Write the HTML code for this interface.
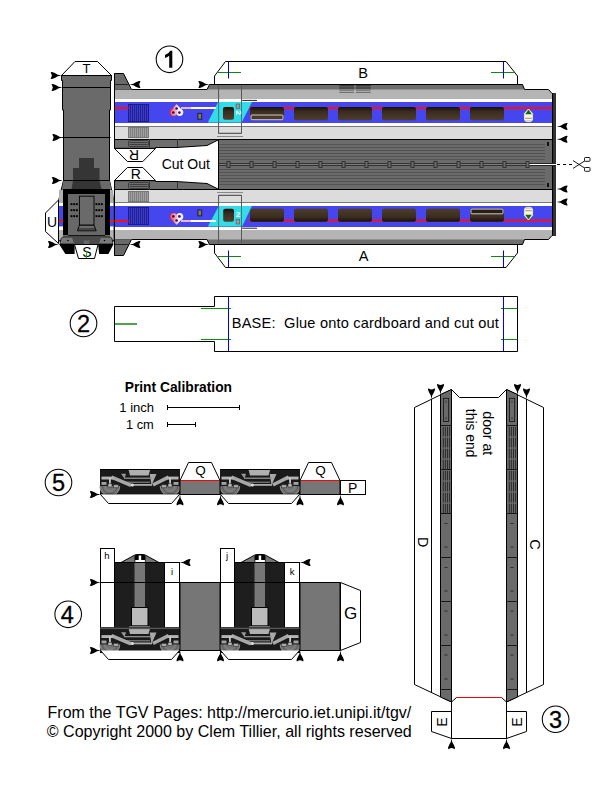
<!DOCTYPE html>
<html><head><meta charset="utf-8"><style>
html,body{margin:0;padding:0;background:#fff;width:612px;height:792px;overflow:hidden}
svg{display:block}
text{font-family:"Liberation Sans",sans-serif}
</style></head><body>
<svg width="612" height="792" viewBox="0 0 612 792">
<defs>
<linearGradient id="win" x1="0" y1="0" x2="0" y2="1">
<stop offset="0" stop-color="#181008"/><stop offset="0.35" stop-color="#3a2c20"/><stop offset="1" stop-color="#4e3e2e"/></linearGradient>
<linearGradient id="winr" x1="0" y1="1" x2="0" y2="0">
<stop offset="0" stop-color="#181008"/><stop offset="0.35" stop-color="#3a2c20"/><stop offset="1" stop-color="#4e3e2e"/></linearGradient>
<linearGradient id="lg" gradientUnits="userSpaceOnUse" x1="170" y1="0" x2="183" y2="0">
<stop offset="0" stop-color="#ff1a1a"/><stop offset="0.45" stop-color="#ff9a8a"/><stop offset="0.7" stop-color="#ffffff"/><stop offset="1" stop-color="#f0e0e0"/></linearGradient>
</defs>

<circle cx="169.5" cy="59.3" r="13.3" fill="none" stroke="#000" stroke-width="1.05"/>
<path d="M169.2,67.8 L172.3,67.8 L172.3,50.8 L170.2,50.8 Q168.8,53.8 165,55 L165,58 Q167.6,57.2 169.2,55.8 Z" fill="#000"/>
<circle cx="83.5" cy="323.4" r="13.3" fill="none" stroke="#000" stroke-width="1.05"/>
<text x="83.5" y="331.8" font-size="23.5" text-anchor="middle" fill="#000" stroke="#000" stroke-width="0.3">2</text>
<circle cx="58.5" cy="482.5" r="13.3" fill="none" stroke="#000" stroke-width="1.05"/>
<text x="58.5" y="490.9" font-size="23.5" text-anchor="middle" fill="#000" stroke="#000" stroke-width="0.3">5</text>
<circle cx="68.2" cy="614.3" r="13.3" fill="none" stroke="#000" stroke-width="1.05"/>
<text x="67.2" y="622.7" font-size="23.5" text-anchor="middle" fill="#000" stroke="#000" stroke-width="0.3">4</text>
<circle cx="555.6" cy="719.2" r="13.3" fill="none" stroke="#000" stroke-width="1.05"/>
<text x="555.6" y="727.6" font-size="23.5" text-anchor="middle" fill="#000" stroke="#000" stroke-width="0.3">3</text>
<g>
<polygon points="114.5,73.5 123.5,73.5 131.5,89.5 114.5,89.5" fill="#6a6a6a" stroke="#000" stroke-width="1"/>
<line x1="114.5" y1="84.5" x2="129" y2="84.5" stroke="#222" stroke-width="1"/>
<polygon points="114.5,89.5 207,89.5 209.5,84.5 522.5,84.5 524.5,89.5 548.5,89.5 552,93.5 552,139 114.5,139" fill="#b4b4b4"/>
<polygon points="209.5,84.5 522.5,84.5 524.5,89.5 207,89.5" fill="#6e6e6e"/>
<polyline points="131.5,89.5 207,89.5 209.5,84.5 522.5,84.5 524.5,89.5 548.5,89.5 552,93.5" fill="none" stroke="#000" stroke-width="1"/>
<rect x="114.5" y="99" width="437.5" height="3" fill="#fff"/>
<rect x="114.5" y="102" width="437.5" height="21" fill="#4646ee"/>
<rect x="114.5" y="123" width="437.5" height="3" fill="#fff"/>
<rect x="114.5" y="126" width="437.5" height="1" fill="#777"/>
<rect x="114.5" y="127" width="437.5" height="12" fill="#dcdcdc"/>
<polygon points="114.5,139.5 218.5,139.5 218.5,140 207,145.5 176,147.5 114.5,147.5" fill="#6e6e6e"/>
<polyline points="114.5,148 155.5,148 155.5,147.5 176,147.5 207,145.5 218,140" fill="none" stroke="#000" stroke-width="1"/>
<rect x="114.5" y="139" width="437.5" height="1" fill="#000"/>
<line x1="149.5" y1="139" x2="149.5" y2="147.5" stroke="#333" stroke-width="1"/>
<line x1="177.5" y1="139" x2="177.5" y2="147" stroke="#333" stroke-width="1"/>
<line x1="114.5" y1="73.5" x2="114.5" y2="148.5" stroke="#000" stroke-width="1"/>
<rect x="128.5" y="104.5" width="20" height="17" fill="#3a3ac8" stroke="#1c1c88" stroke-width="1"/>
<line x1="130.5" y1="105" x2="130.5" y2="121" stroke="#1c1c88" stroke-width="0.8"/>
<line x1="132.5" y1="105" x2="132.5" y2="121" stroke="#1c1c88" stroke-width="0.8"/>
<line x1="134.5" y1="105" x2="134.5" y2="121" stroke="#1c1c88" stroke-width="0.8"/>
<line x1="136.5" y1="105" x2="136.5" y2="121" stroke="#1c1c88" stroke-width="0.8"/>
<line x1="138.5" y1="105" x2="138.5" y2="121" stroke="#1c1c88" stroke-width="0.8"/>
<line x1="140.5" y1="105" x2="140.5" y2="121" stroke="#1c1c88" stroke-width="0.8"/>
<line x1="142.5" y1="105" x2="142.5" y2="121" stroke="#1c1c88" stroke-width="0.8"/>
<line x1="144.5" y1="105" x2="144.5" y2="121" stroke="#1c1c88" stroke-width="0.8"/>
<line x1="146.5" y1="105" x2="146.5" y2="121" stroke="#1c1c88" stroke-width="0.8"/>
<rect x="128.5" y="127.5" width="20" height="10" fill="#a0a0a0" stroke="#777" stroke-width="1"/>
<line x1="130.5" y1="128" x2="130.5" y2="137" stroke="#777" stroke-width="0.8"/>
<line x1="132.5" y1="128" x2="132.5" y2="137" stroke="#777" stroke-width="0.8"/>
<line x1="134.5" y1="128" x2="134.5" y2="137" stroke="#777" stroke-width="0.8"/>
<line x1="136.5" y1="128" x2="136.5" y2="137" stroke="#777" stroke-width="0.8"/>
<line x1="138.5" y1="128" x2="138.5" y2="137" stroke="#777" stroke-width="0.8"/>
<line x1="140.5" y1="128" x2="140.5" y2="137" stroke="#777" stroke-width="0.8"/>
<line x1="142.5" y1="128" x2="142.5" y2="137" stroke="#777" stroke-width="0.8"/>
<line x1="144.5" y1="128" x2="144.5" y2="137" stroke="#777" stroke-width="0.8"/>
<line x1="146.5" y1="128" x2="146.5" y2="137" stroke="#777" stroke-width="0.8"/>
<rect x="128.5" y="140.5" width="20" height="6" rx="1" fill="#6e6e6e" stroke="#333" stroke-width="0.8"/>
<line x1="129.5" y1="142.5" x2="147.5" y2="142.5" stroke="#333" stroke-width="0.8"/>
<line x1="129.5" y1="144.5" x2="147.5" y2="144.5" stroke="#333" stroke-width="0.8"/>
<rect x="115" y="107" width="13.5" height="2" fill="#ff1010"/>
<polyline points="218.5,85 218.5,133.5 241.5,133.5 241.5,85" fill="none" stroke="#666" stroke-width="1"/>
<line x1="217" y1="136.5" x2="243" y2="136.5" stroke="#888" stroke-width="1"/>
</g>
<g transform="translate(0,329.0) scale(1,-1)">
<polygon points="114.5,73.5 123.5,73.5 131.5,89.5 114.5,89.5" fill="#6a6a6a" stroke="#000" stroke-width="1"/>
<line x1="114.5" y1="84.5" x2="129" y2="84.5" stroke="#222" stroke-width="1"/>
<polygon points="114.5,89.5 207,89.5 209.5,84.5 522.5,84.5 524.5,89.5 548.5,89.5 552,93.5 552,139 114.5,139" fill="#b4b4b4"/>
<polygon points="209.5,84.5 522.5,84.5 524.5,89.5 207,89.5" fill="#6e6e6e"/>
<polyline points="131.5,89.5 207,89.5 209.5,84.5 522.5,84.5 524.5,89.5 548.5,89.5 552,93.5" fill="none" stroke="#000" stroke-width="1"/>
<rect x="114.5" y="99" width="437.5" height="3" fill="#fff"/>
<rect x="114.5" y="102" width="437.5" height="21" fill="#4646ee"/>
<rect x="114.5" y="123" width="437.5" height="3" fill="#fff"/>
<rect x="114.5" y="126" width="437.5" height="1" fill="#777"/>
<rect x="114.5" y="127" width="437.5" height="12" fill="#dcdcdc"/>
<polygon points="114.5,139.5 218.5,139.5 218.5,140 207,145.5 176,147.5 114.5,147.5" fill="#6e6e6e"/>
<polyline points="114.5,148 155.5,148 155.5,147.5 176,147.5 207,145.5 218,140" fill="none" stroke="#000" stroke-width="1"/>
<rect x="114.5" y="139" width="437.5" height="1" fill="#000"/>
<line x1="149.5" y1="139" x2="149.5" y2="147.5" stroke="#333" stroke-width="1"/>
<line x1="177.5" y1="139" x2="177.5" y2="147" stroke="#333" stroke-width="1"/>
<line x1="114.5" y1="73.5" x2="114.5" y2="148.5" stroke="#000" stroke-width="1"/>
<rect x="128.5" y="104.5" width="20" height="17" fill="#3a3ac8" stroke="#1c1c88" stroke-width="1"/>
<line x1="130.5" y1="105" x2="130.5" y2="121" stroke="#1c1c88" stroke-width="0.8"/>
<line x1="132.5" y1="105" x2="132.5" y2="121" stroke="#1c1c88" stroke-width="0.8"/>
<line x1="134.5" y1="105" x2="134.5" y2="121" stroke="#1c1c88" stroke-width="0.8"/>
<line x1="136.5" y1="105" x2="136.5" y2="121" stroke="#1c1c88" stroke-width="0.8"/>
<line x1="138.5" y1="105" x2="138.5" y2="121" stroke="#1c1c88" stroke-width="0.8"/>
<line x1="140.5" y1="105" x2="140.5" y2="121" stroke="#1c1c88" stroke-width="0.8"/>
<line x1="142.5" y1="105" x2="142.5" y2="121" stroke="#1c1c88" stroke-width="0.8"/>
<line x1="144.5" y1="105" x2="144.5" y2="121" stroke="#1c1c88" stroke-width="0.8"/>
<line x1="146.5" y1="105" x2="146.5" y2="121" stroke="#1c1c88" stroke-width="0.8"/>
<rect x="128.5" y="127.5" width="20" height="10" fill="#a0a0a0" stroke="#777" stroke-width="1"/>
<line x1="130.5" y1="128" x2="130.5" y2="137" stroke="#777" stroke-width="0.8"/>
<line x1="132.5" y1="128" x2="132.5" y2="137" stroke="#777" stroke-width="0.8"/>
<line x1="134.5" y1="128" x2="134.5" y2="137" stroke="#777" stroke-width="0.8"/>
<line x1="136.5" y1="128" x2="136.5" y2="137" stroke="#777" stroke-width="0.8"/>
<line x1="138.5" y1="128" x2="138.5" y2="137" stroke="#777" stroke-width="0.8"/>
<line x1="140.5" y1="128" x2="140.5" y2="137" stroke="#777" stroke-width="0.8"/>
<line x1="142.5" y1="128" x2="142.5" y2="137" stroke="#777" stroke-width="0.8"/>
<line x1="144.5" y1="128" x2="144.5" y2="137" stroke="#777" stroke-width="0.8"/>
<line x1="146.5" y1="128" x2="146.5" y2="137" stroke="#777" stroke-width="0.8"/>
<rect x="128.5" y="140.5" width="20" height="6" rx="1" fill="#6e6e6e" stroke="#333" stroke-width="0.8"/>
<line x1="129.5" y1="142.5" x2="147.5" y2="142.5" stroke="#333" stroke-width="0.8"/>
<line x1="129.5" y1="144.5" x2="147.5" y2="144.5" stroke="#333" stroke-width="0.8"/>
<rect x="115" y="107" width="13.5" height="2" fill="#ff1010"/>
<polyline points="218.5,85 218.5,133.5 241.5,133.5 241.5,85" fill="none" stroke="#666" stroke-width="1"/>
<line x1="217" y1="136.5" x2="243" y2="136.5" stroke="#888" stroke-width="1"/>
</g>
<rect x="552" y="93" width="4" height="143" fill="#333"/><rect x="552" y="93" width="1" height="143" fill="#000"/>
<rect x="218" y="139" width="334" height="51" fill="#6b6b6b"/>
<rect x="219" y="144" width="326" height="1" fill="#535353"/>
<rect x="219" y="147" width="326" height="1" fill="#535353"/>
<rect x="219" y="150" width="326" height="1" fill="#535353"/>
<rect x="219" y="153" width="326" height="1" fill="#535353"/>
<rect x="219" y="156" width="326" height="1" fill="#535353"/>
<rect x="219" y="159" width="326" height="1" fill="#535353"/>
<rect x="219" y="169" width="326" height="1" fill="#535353"/>
<rect x="219" y="172" width="326" height="1" fill="#535353"/>
<rect x="219" y="175" width="326" height="1" fill="#535353"/>
<rect x="219" y="178" width="326" height="1" fill="#535353"/>
<rect x="219" y="181" width="326" height="1" fill="#535353"/>
<rect x="219" y="184" width="326" height="1" fill="#535353"/>
<rect x="218" y="139" width="334" height="1" fill="#000"/>
<rect x="218" y="189" width="334" height="1" fill="#000"/>
<rect x="218" y="139" width="1" height="51" fill="#000"/>
<rect x="219" y="163" width="310" height="1" fill="#333"/><rect x="219" y="165" width="310" height="1" fill="#333"/><rect x="219" y="164" width="310" height="1" fill="#7a7a7a"/>
<rect x="528" y="163" width="28" height="1" fill="#222"/><rect x="528" y="165" width="28" height="1" fill="#222"/><rect x="528" y="164" width="28" height="1" fill="#fff"/>
<rect x="227.0" y="161.5" width="3" height="6" fill="#6b6b6b" stroke="#333" stroke-width="1"/>
<rect x="250.0" y="161.5" width="3" height="6" fill="#6b6b6b" stroke="#333" stroke-width="1"/>
<rect x="273.0" y="161.5" width="3" height="6" fill="#6b6b6b" stroke="#333" stroke-width="1"/>
<rect x="296.0" y="161.5" width="3" height="6" fill="#6b6b6b" stroke="#333" stroke-width="1"/>
<rect x="319.0" y="161.5" width="3" height="6" fill="#6b6b6b" stroke="#333" stroke-width="1"/>
<rect x="342.0" y="161.5" width="3" height="6" fill="#6b6b6b" stroke="#333" stroke-width="1"/>
<rect x="365.0" y="161.5" width="3" height="6" fill="#6b6b6b" stroke="#333" stroke-width="1"/>
<rect x="388.0" y="161.5" width="3" height="6" fill="#6b6b6b" stroke="#333" stroke-width="1"/>
<rect x="411.0" y="161.5" width="3" height="6" fill="#6b6b6b" stroke="#333" stroke-width="1"/>
<rect x="434.0" y="161.5" width="3" height="6" fill="#6b6b6b" stroke="#333" stroke-width="1"/>
<rect x="457.0" y="161.5" width="3" height="6" fill="#6b6b6b" stroke="#333" stroke-width="1"/>
<rect x="480.0" y="161.5" width="3" height="6" fill="#6b6b6b" stroke="#333" stroke-width="1"/>
<rect x="503.0" y="161.5" width="3" height="6" fill="#6b6b6b" stroke="#333" stroke-width="1"/>
<rect x="526.0" y="161.5" width="3" height="6" fill="#6b6b6b" stroke="#333" stroke-width="1"/>
<rect x="547" y="142" width="2" height="4" fill="#111"/>
<rect x="547" y="183" width="2" height="4" fill="#111"/>
<line x1="557" y1="164.5" x2="572" y2="164.5" stroke="#000" stroke-width="1" stroke-dasharray="3,3"/>
<line x1="573" y1="160.6" x2="585.5" y2="168.6" stroke="#000" stroke-width="0.9"/>
<line x1="573" y1="168.4" x2="585.5" y2="160.4" stroke="#000" stroke-width="0.9"/>
<rect x="584.5" y="157.5" width="5.5" height="3.8" rx="0.8" fill="#fff" stroke="#000" stroke-width="0.9"/>
<rect x="584.5" y="167.5" width="5.5" height="3.8" rx="0.8" fill="#fff" stroke="#000" stroke-width="0.9"/>
<polygon points="114.5,148.5 155.5,148.5 142.8,161.5 127.4,161.5" fill="#fff" stroke="#000" stroke-width="1"/>
<text x="134" y="160" font-size="14" text-anchor="middle" transform="rotate(180 134 155)" fill="#000">R</text>
<polygon points="127.4,167.5 142.8,167.5 155.5,180.5 114.5,180.5" fill="#fff" stroke="#000" stroke-width="1"/>
<text x="135.8" y="178.8" font-size="14" text-anchor="middle" fill="#000">R</text>
<text x="185.8" y="168.7" font-size="14" text-anchor="middle" fill="#000">Cut Out</text>
<polygon points="214.5,84.5 214.5,76 225.5,61.5 506,61.5 517.5,76 517.5,84.5" fill="#fff" stroke="#000" stroke-width="1"/>
<polygon points="214.5,244.5 214.5,253 225.5,267.5 506,267.5 517.5,253 517.5,244.5" fill="#fff" stroke="#000" stroke-width="1"/>
<text x="363" y="77.9" font-size="14.6" text-anchor="middle" fill="#000">B</text>
<text x="363.5" y="261" font-size="14.6" text-anchor="middle" fill="#000">A</text>
<line x1="218" y1="72.5" x2="241" y2="72.5" stroke="#118811" stroke-width="1"/><line x1="228.5" y1="62" x2="228.5" y2="78.5" stroke="#0000ee" stroke-width="1"/>
<line x1="491" y1="72.5" x2="514" y2="72.5" stroke="#118811" stroke-width="1"/><line x1="503.5" y1="62" x2="503.5" y2="78.5" stroke="#0000ee" stroke-width="1"/>
<line x1="218" y1="256.5" x2="241" y2="256.5" stroke="#118811" stroke-width="1"/><line x1="228.5" y1="250.5" x2="228.5" y2="267" stroke="#0000ee" stroke-width="1"/>
<line x1="491" y1="256.5" x2="514" y2="256.5" stroke="#118811" stroke-width="1"/><line x1="503.5" y1="250.5" x2="503.5" y2="267" stroke="#0000ee" stroke-width="1"/>
<line x1="339.3" y1="85.8" x2="354.0" y2="85.8" stroke="#111" stroke-width="0.8"/>
<line x1="339.3" y1="88.0" x2="354.0" y2="88.0" stroke="#111" stroke-width="0.8"/>
<line x1="339.3" y1="90.2" x2="354.0" y2="90.2" stroke="#555" stroke-width="0.8"/>
<line x1="339.3" y1="92.4" x2="354.0" y2="92.4" stroke="#555" stroke-width="0.8"/>
<line x1="356" y1="85.8" x2="370.7" y2="85.8" stroke="#111" stroke-width="0.8"/>
<line x1="356" y1="88.0" x2="370.7" y2="88.0" stroke="#111" stroke-width="0.8"/>
<line x1="356" y1="90.2" x2="370.7" y2="90.2" stroke="#555" stroke-width="0.8"/>
<line x1="356" y1="92.4" x2="370.7" y2="92.4" stroke="#555" stroke-width="0.8"/>
<rect x="249" y="107" width="303" height="2" fill="#ff1010"/>
<rect x="250" y="107" width="34" height="13.3" rx="2" fill="url(#win)"/>
<rect x="251" y="115" width="32" height="4.7" rx="1" fill="#4a3a2a" stroke="#ddd" stroke-width="0.9"/>
<rect x="294" y="107" width="34" height="13.3" rx="2" fill="url(#win)"/>
<rect x="338" y="107" width="34" height="13.3" rx="2" fill="url(#win)"/>
<rect x="382" y="107" width="34" height="13.3" rx="2" fill="url(#win)"/>
<rect x="426" y="107" width="34" height="13.3" rx="2" fill="url(#win)"/>
<rect x="470" y="107" width="34" height="13.3" rx="2" fill="url(#win)"/>
<rect x="249" y="219.5" width="303" height="2" fill="#ff1010"/>
<rect x="250" y="208.5" width="34" height="13.3" rx="2" fill="url(#winr)"/>
<rect x="294" y="208.5" width="34" height="13.3" rx="2" fill="url(#winr)"/>
<rect x="338" y="208.5" width="34" height="13.3" rx="2" fill="url(#winr)"/>
<rect x="382" y="208.5" width="34" height="13.3" rx="2" fill="url(#winr)"/>
<rect x="426" y="208.5" width="34" height="13.3" rx="2" fill="url(#winr)"/>
<rect x="470" y="208.5" width="34" height="13.3" rx="2" fill="url(#winr)"/>
<rect x="471" y="209.1" width="32" height="4.7" rx="1" fill="#2a1e14" stroke="#ddd" stroke-width="0.9"/>
<polygon points="218.1,102 252,102 241.7,122.6 207.8,122.6" fill="#33dde8"/>
<polygon points="218.8,206 251.9,206 242.1,226.4 207.8,226.4" fill="#33dde8"/>
<polyline points="218.6,85 218.6,133.2 241.5,133.2 241.5,85" fill="none" stroke="#555" stroke-width="0.8"/>
<polyline points="218.6,243.4 218.6,195.2 241.5,195.2 241.5,243.4" fill="none" stroke="#555" stroke-width="0.8"/>
<rect x="223" y="107" width="11" height="12.7" rx="2" fill="url(#win)"/>
<rect x="223.2" y="208.8" width="10.8" height="13" rx="2" fill="url(#win)"/>
<rect x="236.1" y="104" width="3.6" height="4.5" fill="#999" stroke="#555" stroke-width="0.6"/>
<rect x="236.1" y="219.5" width="3.6" height="4.5" fill="#999" stroke="#555" stroke-width="0.6"/>
<text x="0" y="0" font-size="8" font-weight="bold" fill="#fff" transform="translate(236,110.5) rotate(90)">2</text>
<text x="238" y="216.5" font-size="8" font-weight="bold" text-anchor="middle" fill="#fff">2</text>
<line x1="242.2" y1="100.4" x2="257" y2="100.4" stroke="#222" stroke-width="1"/>
<line x1="242.2" y1="228.2" x2="257" y2="228.2" stroke="#222" stroke-width="1"/>
<rect x="197.3" y="112.9" width="4.9" height="6.8" fill="#222"/><rect x="198.3" y="113.9" width="2.9" height="4.8" fill="#777"/>
<rect x="197.3" y="209.5" width="4.9" height="6.8" fill="#222"/><rect x="198.3" y="210.5" width="2.9" height="4.8" fill="#777"/>
<g>
<rect x="181" y="220" width="35" height="2" fill="#fff"/>
<rect x="181" y="220" width="10" height="2" fill="#e8b8b8"/>
<circle cx="173.4" cy="216.7" r="3.6" fill="url(#lg)"/>
<circle cx="179.7" cy="216.7" r="3.6" fill="url(#lg)"/>
<polygon points="170,217.8 176.5,224.9 183.1,217.8 176.5,214.5" fill="url(#lg)"/>
<circle cx="173.3" cy="216.4" r="2" fill="none" stroke="#fff" stroke-width="0.7" opacity="0.6"/>
<circle cx="173.3" cy="216.4" r="1.35" fill="#1818a8"/>
<circle cx="179.4" cy="216.4" r="2" fill="none" stroke="#fff" stroke-width="0.7" opacity="0.6"/>
<circle cx="179.4" cy="216.4" r="1.35" fill="#1818a8"/>
<circle cx="176.6" cy="220.5" r="2" fill="none" stroke="#fff" stroke-width="0.7" opacity="0.6"/>
<circle cx="176.6" cy="220.5" r="1.35" fill="#1818a8"/>
</g>
<g transform="translate(0,329) scale(1,-1)">
<rect x="181" y="220" width="35" height="2" fill="#fff"/>
<rect x="181" y="220" width="10" height="2" fill="#e8b8b8"/>
<circle cx="173.4" cy="216.7" r="3.6" fill="url(#lg)"/>
<circle cx="179.7" cy="216.7" r="3.6" fill="url(#lg)"/>
<polygon points="170,217.8 176.5,224.9 183.1,217.8 176.5,214.5" fill="url(#lg)"/>
<circle cx="173.3" cy="216.4" r="2" fill="none" stroke="#fff" stroke-width="0.7" opacity="0.6"/>
<circle cx="173.3" cy="216.4" r="1.35" fill="#1818a8"/>
<circle cx="179.4" cy="216.4" r="2" fill="none" stroke="#fff" stroke-width="0.7" opacity="0.6"/>
<circle cx="179.4" cy="216.4" r="1.35" fill="#1818a8"/>
<circle cx="176.6" cy="220.5" r="2" fill="none" stroke="#fff" stroke-width="0.7" opacity="0.6"/>
<circle cx="176.6" cy="220.5" r="1.35" fill="#1818a8"/>
</g>
<g>
<path d="M528.5,109 L532.6,113.5 L532.6,119.3 Q532.6,121.7 528.5,121.7 Q524.4,121.7 524.4,119.3 L524.4,113.5 Z" fill="#fff6d2" stroke="#f4f4ff" stroke-width="0.7"/>
<path d="M528.5,109.8 L531.8,114.2 L525.2,114.2 Z" fill="#0a6a0a"/>
<rect x="525.3" y="117.8" width="6.4" height="1" fill="#8898a8"/>
<rect x="525.5" y="120" width="6" height="1" fill="#f0d090"/>
</g>
<g transform="translate(0,329) scale(1,-1)">
<path d="M528.5,109 L532.6,113.5 L532.6,119.3 Q532.6,121.7 528.5,121.7 Q524.4,121.7 524.4,119.3 L524.4,113.5 Z" fill="#fff6d2" stroke="#f4f4ff" stroke-width="0.7"/>
<path d="M528.5,109.8 L531.8,114.2 L525.2,114.2 Z" fill="#0a6a0a"/>
<rect x="525.3" y="117.8" width="6.4" height="1" fill="#8898a8"/>
<rect x="525.5" y="120" width="6" height="1" fill="#f0d090"/>
</g>
<path d="M0.3,0 L-3.5,-0.7 L-6.5,-2.4 L-9.3,-3.5 L-10.7,-3.2 L-9.8,-1.3 L-9.4,0 L-9.8,1.3 L-10.7,3.2 L-9.3,3.5 L-6.5,2.4 L-3.5,0.7 Z" transform="translate(129.8,84.5) rotate(180)" fill="#000"/>
<path d="M0.3,0 L-3.5,-0.7 L-6.5,-2.4 L-9.3,-3.5 L-10.7,-3.2 L-9.8,-1.3 L-9.4,0 L-9.8,1.3 L-10.7,3.2 L-9.3,3.5 L-6.5,2.4 L-3.5,0.7 Z" transform="translate(209,84.5) rotate(0)" fill="#000"/>
<path d="M0.3,0 L-3.5,-0.7 L-6.5,-2.4 L-9.3,-3.5 L-10.7,-3.2 L-9.8,-1.3 L-9.4,0 L-9.8,1.3 L-10.7,3.2 L-9.3,3.5 L-6.5,2.4 L-3.5,0.7 Z" transform="translate(129.8,244.5) rotate(180)" fill="#000"/>
<path d="M0.3,0 L-3.5,-0.7 L-6.5,-2.4 L-9.3,-3.5 L-10.7,-3.2 L-9.8,-1.3 L-9.4,0 L-9.8,1.3 L-10.7,3.2 L-9.3,3.5 L-6.5,2.4 L-3.5,0.7 Z" transform="translate(209,244.5) rotate(0)" fill="#000"/>
<path d="M0.3,0 L-3.5,-0.7 L-6.5,-2.4 L-9.3,-3.5 L-10.7,-3.2 L-9.8,-1.3 L-9.4,0 L-9.8,1.3 L-10.7,3.2 L-9.3,3.5 L-6.5,2.4 L-3.5,0.7 Z" transform="translate(557,126.4) rotate(180)" fill="#000"/>
<path d="M0.3,0 L-3.5,-0.7 L-6.5,-2.4 L-9.3,-3.5 L-10.7,-3.2 L-9.8,-1.3 L-9.4,0 L-9.8,1.3 L-10.7,3.2 L-9.3,3.5 L-6.5,2.4 L-3.5,0.7 Z" transform="translate(557,139.3) rotate(180)" fill="#000"/>
<path d="M0.3,0 L-3.5,-0.7 L-6.5,-2.4 L-9.3,-3.5 L-10.7,-3.2 L-9.8,-1.3 L-9.4,0 L-9.8,1.3 L-10.7,3.2 L-9.3,3.5 L-6.5,2.4 L-3.5,0.7 Z" transform="translate(557,189) rotate(180)" fill="#000"/>
<path d="M0.3,0 L-3.5,-0.7 L-6.5,-2.4 L-9.3,-3.5 L-10.7,-3.2 L-9.8,-1.3 L-9.4,0 L-9.8,1.3 L-10.7,3.2 L-9.3,3.5 L-6.5,2.4 L-3.5,0.7 Z" transform="translate(557,202) rotate(180)" fill="#000"/>
<polygon points="61.5,75.5 75,61.5 97.5,61.5 111.5,75.5" fill="#fff" stroke="#000" stroke-width="1"/>
<text x="86.5" y="73.2" font-size="13" text-anchor="middle" fill="#000">T</text>
<polygon points="61.5,75.5 111.5,75.5 111.5,80.5 110.5,80.5 110.5,110 109.5,110 109.5,180.5 63.5,180.5 63.5,110 62.5,110 62.5,80.5 61.5,80.5" fill="#6a6a6a" stroke="#000" stroke-width="1"/>
<line x1="62" y1="87.5" x2="110.5" y2="87.5" stroke="#000" stroke-width="1"/>
<line x1="62" y1="137.5" x2="110.5" y2="137.5" stroke="#000" stroke-width="1"/>
<polygon points="63.5,180.5 109.5,180.5 114,201 114,241 58.5,241 58.5,201" fill="#6a6a6a" stroke="#000" stroke-width="1"/>
<rect x="59" y="190" width="4.0" height="13" fill="#b0b0b0"/>
<rect x="59" y="203" width="4.0" height="3" fill="#fff"/>
<rect x="59" y="206" width="4.0" height="20.5" fill="#4646ee"/>
<rect x="59" y="220" width="4.0" height="2" fill="#ff1010"/>
<rect x="59" y="226.5" width="4.0" height="3.5" fill="#fff"/>
<rect x="59" y="230" width="4.0" height="10" fill="#b4b4b4"/>
<rect x="110" y="190" width="3.5" height="13" fill="#b0b0b0"/>
<rect x="110" y="203" width="3.5" height="3" fill="#fff"/>
<rect x="110" y="206" width="3.5" height="20.5" fill="#4646ee"/>
<rect x="110" y="220" width="3.5" height="2" fill="#ff1010"/>
<rect x="110" y="226.5" width="3.5" height="3.5" fill="#fff"/>
<rect x="110" y="230" width="3.5" height="10" fill="#b4b4b4"/>
<polygon points="63.5,180.5 73,180.5 71.5,189 62,189" fill="#6a6a6a"/>
<polygon points="99.5,180.5 109.5,180.5 111.5,189 101.5,189" fill="#6a6a6a"/>
<polygon points="79,158 94,158 94,168 99.5,168 99.5,180.5 101.5,189 71.5,189 73,180.5 73,168 79,168" fill="#353535"/>
<line x1="63.5" y1="180.5" x2="109.5" y2="180.5" stroke="#000" stroke-width="1"/>
<rect x="63" y="189" width="47" height="5" fill="#000"/>
<rect x="63" y="194" width="5" height="41" fill="#000"/>
<rect x="105" y="194" width="5" height="41" fill="#000"/>
<rect x="68" y="194" width="37" height="41" fill="#686868"/>
<rect x="79.4" y="196.2" width="14.6" height="29" fill="#6a6a6a" stroke="#000" stroke-width="0.9"/>
<polygon points="79.4,225.2 94,225.2 96.2,230.8 77.4,230.8" fill="#6a6a6a" stroke="#000" stroke-width="0.9"/>
<line x1="78" y1="229" x2="95.5" y2="229" stroke="#000" stroke-width="0.7"/>
<rect x="70.5" y="203.2" width="1.9" height="1.9" fill="#000"/>
<rect x="73.2" y="203.2" width="1.9" height="1.9" fill="#000"/>
<rect x="75.9" y="203.2" width="1.9" height="1.9" fill="#000"/>
<rect x="95.5" y="203.2" width="1.9" height="1.9" fill="#000"/>
<rect x="98.2" y="203.2" width="1.9" height="1.9" fill="#000"/>
<rect x="100.9" y="203.2" width="1.9" height="1.9" fill="#000"/>
<rect x="70.5" y="209.2" width="1.9" height="1.9" fill="#000"/>
<rect x="73.2" y="209.2" width="1.9" height="1.9" fill="#000"/>
<rect x="75.9" y="209.2" width="1.9" height="1.9" fill="#000"/>
<rect x="95.5" y="209.2" width="1.9" height="1.9" fill="#000"/>
<rect x="98.2" y="209.2" width="1.9" height="1.9" fill="#000"/>
<rect x="100.9" y="209.2" width="1.9" height="1.9" fill="#000"/>
<rect x="70.5" y="215.2" width="1.9" height="1.9" fill="#000"/>
<rect x="73.2" y="215.2" width="1.9" height="1.9" fill="#000"/>
<rect x="75.9" y="215.2" width="1.9" height="1.9" fill="#000"/>
<rect x="95.5" y="215.2" width="1.9" height="1.9" fill="#000"/>
<rect x="98.2" y="215.2" width="1.9" height="1.9" fill="#000"/>
<rect x="100.9" y="215.2" width="1.9" height="1.9" fill="#000"/>
<line x1="68" y1="235.5" x2="105" y2="235.5" stroke="#000" stroke-width="0.8"/>
<path d="M60,244 L61,238.5 Q62,237 64,237 L109,237 Q111,237 112,238.5 L113,244 Z" fill="#7a7a7a" stroke="#000" stroke-width="0.7"/>
<polygon points="72,237.2 101,237.2 99,244 74,244" fill="#4a4a4a"/>
<circle cx="68" cy="240.5" r="0.8" fill="#000"/><circle cx="104.5" cy="240.5" r="0.8" fill="#000"/>
<text x="86.5" y="243.5" font-size="5" text-anchor="middle" fill="#999">ïöï</text>
<polygon points="59,244 74.6,244 74.6,254 65.4,254" fill="#000"/>
<polygon points="98,244 113.6,244 108.4,254 99.2,254" fill="#000"/>
<polygon points="74.5,244.5 98,244.5 94.5,258.5 78.5,258.5" fill="#fff" stroke="#000" stroke-width="1"/>
<text x="87" y="256.7" font-size="14" text-anchor="middle" fill="#000">S</text>
<line x1="86.8" y1="251" x2="86.3" y2="258" stroke="#11aa11" stroke-width="1"/>
<polygon points="58.5,200 45.5,213 45.5,231.5 58.5,243.5" fill="#fff" stroke="#000" stroke-width="1"/>
<text x="52" y="227" font-size="14" text-anchor="middle" fill="#000">U</text>
<path d="M0.3,0 L-3.5,-0.7 L-6.5,-2.4 L-9.3,-3.5 L-10.7,-3.2 L-9.8,-1.3 L-9.4,0 L-9.8,1.3 L-10.7,3.2 L-9.3,3.5 L-6.5,2.4 L-3.5,0.7 Z" transform="translate(61.3,75.5) rotate(0)" fill="#000"/>
<path d="M0.3,0 L-3.5,-0.7 L-6.5,-2.4 L-9.3,-3.5 L-10.7,-3.2 L-9.8,-1.3 L-9.4,0 L-9.8,1.3 L-10.7,3.2 L-9.3,3.5 L-6.5,2.4 L-3.5,0.7 Z" transform="translate(62.2,87.5) rotate(0)" fill="#000"/>
<path d="M0.3,0 L-3.5,-0.7 L-6.5,-2.4 L-9.3,-3.5 L-10.7,-3.2 L-9.8,-1.3 L-9.4,0 L-9.8,1.3 L-10.7,3.2 L-9.3,3.5 L-6.5,2.4 L-3.5,0.7 Z" transform="translate(63,137.5) rotate(0)" fill="#000"/>
<path d="M0.3,0 L-3.5,-0.7 L-6.5,-2.4 L-9.3,-3.5 L-10.7,-3.2 L-9.8,-1.3 L-9.4,0 L-9.8,1.3 L-10.7,3.2 L-9.3,3.5 L-6.5,2.4 L-3.5,0.7 Z" transform="translate(62.5,180.5) rotate(0)" fill="#000"/>
<path d="M0.3,0 L-3.5,-0.7 L-6.5,-2.4 L-9.3,-3.5 L-10.7,-3.2 L-9.8,-1.3 L-9.4,0 L-9.8,1.3 L-10.7,3.2 L-9.3,3.5 L-6.5,2.4 L-3.5,0.7 Z" transform="translate(58.6,244.5) rotate(0)" fill="#000"/>
<polygon points="114.5,306.5 214.5,306.5 214.5,296.5 517.5,296.5 517.5,351.5 214.5,351.5 214.5,341.5 114.5,341.5" fill="#fff" stroke="#000" stroke-width="1"/>
<line x1="115" y1="324" x2="137" y2="324" stroke="#118811" stroke-width="1.5"/>
<line x1="201" y1="308.5" x2="231" y2="308.5" stroke="#118811" stroke-width="1"/>
<line x1="501" y1="308.5" x2="517" y2="308.5" stroke="#118811" stroke-width="1"/>
<line x1="201" y1="339.5" x2="231" y2="339.5" stroke="#118811" stroke-width="1"/>
<line x1="501" y1="339.5" x2="517" y2="339.5" stroke="#118811" stroke-width="1"/>
<line x1="228.5" y1="297" x2="228.5" y2="351" stroke="#0000ee" stroke-width="1"/>
<line x1="503.5" y1="297" x2="503.5" y2="351" stroke="#0000ee" stroke-width="1"/>
<text x="231.8" y="327.7" font-size="14.6" fill="#000" textLength="267" lengthAdjust="spacing">BASE:&#160; Glue onto cardboard and cut out</text>
<text x="124.7" y="392.2" font-size="13.8" font-weight="bold" fill="#000">Print Calibration</text>
<text x="119.3" y="412" font-size="13.6" fill="#000" textLength="34.8" lengthAdjust="spacingAndGlyphs">1 inch</text>
<text x="126" y="428.9" font-size="13.6" fill="#000" textLength="27.8" lengthAdjust="spacingAndGlyphs">1 cm</text>
<line x1="167.5" y1="407.5" x2="239.5" y2="407.5" stroke="#000" stroke-width="1"/>
<line x1="167.5" y1="405" x2="167.5" y2="410" stroke="#000" stroke-width="1"/><line x1="239.5" y1="405" x2="239.5" y2="410" stroke="#000" stroke-width="1"/>
<line x1="167.5" y1="424.5" x2="195.5" y2="424.5" stroke="#000" stroke-width="1"/>
<line x1="167.5" y1="422" x2="167.5" y2="427" stroke="#000" stroke-width="1"/><line x1="195.5" y1="422" x2="195.5" y2="427" stroke="#000" stroke-width="1"/>
<g transform="translate(100,469)">
<rect x="0" y="0" width="80" height="25.5" fill="#1a1a1a"/>
<rect x="0" y="0" width="80" height="1" fill="#000"/>
<path d="M-0.1999999999999993,17 A10,10 0 0 0 19.8,17 Z" fill="#747474"/>
<path d="M2.3000000000000007,17 A7.5,7.5 0 0 0 17.3,17" fill="none" stroke="#5a5a5a" stroke-width="1"/>
<path d="M4.800000000000001,17 A5,5 0 0 0 14.8,17" fill="none" stroke="#8a8a8a" stroke-width="0.8"/>
<path d="M-0.1999999999999993,17 A10,10 0 0 0 19.8,17" fill="none" stroke="#9a9a9a" stroke-width="0.9"/>
<path d="M60.2,17 A10,10 0 0 0 80.2,17 Z" fill="#747474"/>
<path d="M62.7,17 A7.5,7.5 0 0 0 77.7,17" fill="none" stroke="#5a5a5a" stroke-width="1"/>
<path d="M65.2,17 A5,5 0 0 0 75.2,17" fill="none" stroke="#8a8a8a" stroke-width="0.8"/>
<path d="M60.2,17 A10,10 0 0 0 80.2,17" fill="none" stroke="#9a9a9a" stroke-width="0.9"/>
<polygon points="28.6,0.9 50.1,0.9 48.5,6.4 30,6.4" fill="#b0b0b0"/>
<polygon points="21,4.8 26,4.8 24.5,9.5" fill="#999"/>
<polygon points="49.7,5 56.5,5 51.5,16.5" fill="#a8a8a8"/>
<rect x="24" y="8.6" width="28" height="1.2" fill="#999"/>
<rect x="26" y="12.6" width="24" height="1.3" fill="#777"/>
<rect x="30" y="15" width="22" height="1.8" fill="#aaa"/>
<line x1="11.5" y1="8.2" x2="31" y2="16.3" stroke="#a8a8a8" stroke-width="3.6"/>
<line x1="68.5" y1="8.2" x2="52.9" y2="16" stroke="#a8a8a8" stroke-width="3.6"/>
<circle cx="32.3" cy="16" r="1.6" fill="#e0e0e0"/>
<rect x="1.5" y="7.6" width="11.7" height="2.9" fill="#b4b4b4"/>
<rect x="1.5" y="13" width="5.0" height="2.9" fill="#a0a0a0"/>
<rect x="9" y="8.8" width="1.8" height="9" fill="#c8c8c8"/>
<rect x="8" y="14.8" width="4.0" height="3.2" fill="#bbb" stroke="#333" stroke-width="0.6"/>
<rect x="13.5" y="15.8" width="5.0" height="3" fill="#aaa" stroke="#333" stroke-width="0.6"/>
<rect x="66.8" y="7.6" width="11.7" height="2.9" fill="#b4b4b4"/>
<rect x="73.5" y="13" width="5.0" height="2.9" fill="#a0a0a0"/>
<rect x="69.2" y="8.8" width="1.8" height="9" fill="#c8c8c8"/>
<rect x="68" y="14.8" width="4.0" height="3.2" fill="#bbb" stroke="#333" stroke-width="0.6"/>
<rect x="61.5" y="15.8" width="5.0" height="3" fill="#aaa" stroke="#333" stroke-width="0.6"/>
<rect x="0" y="24.8" width="80" height="0.7" fill="#000"/>
</g>
<g transform="translate(220,469)">
<rect x="0" y="0" width="80" height="25.5" fill="#1a1a1a"/>
<rect x="0" y="0" width="80" height="1" fill="#000"/>
<path d="M-0.1999999999999993,17 A10,10 0 0 0 19.8,17 Z" fill="#747474"/>
<path d="M2.3000000000000007,17 A7.5,7.5 0 0 0 17.3,17" fill="none" stroke="#5a5a5a" stroke-width="1"/>
<path d="M4.800000000000001,17 A5,5 0 0 0 14.8,17" fill="none" stroke="#8a8a8a" stroke-width="0.8"/>
<path d="M-0.1999999999999993,17 A10,10 0 0 0 19.8,17" fill="none" stroke="#9a9a9a" stroke-width="0.9"/>
<path d="M60.2,17 A10,10 0 0 0 80.2,17 Z" fill="#747474"/>
<path d="M62.7,17 A7.5,7.5 0 0 0 77.7,17" fill="none" stroke="#5a5a5a" stroke-width="1"/>
<path d="M65.2,17 A5,5 0 0 0 75.2,17" fill="none" stroke="#8a8a8a" stroke-width="0.8"/>
<path d="M60.2,17 A10,10 0 0 0 80.2,17" fill="none" stroke="#9a9a9a" stroke-width="0.9"/>
<polygon points="28.6,0.9 50.1,0.9 48.5,6.4 30,6.4" fill="#b0b0b0"/>
<polygon points="21,4.8 26,4.8 24.5,9.5" fill="#999"/>
<polygon points="49.7,5 56.5,5 51.5,16.5" fill="#a8a8a8"/>
<rect x="24" y="8.6" width="28" height="1.2" fill="#999"/>
<rect x="26" y="12.6" width="24" height="1.3" fill="#777"/>
<rect x="30" y="15" width="22" height="1.8" fill="#aaa"/>
<line x1="11.5" y1="8.2" x2="31" y2="16.3" stroke="#a8a8a8" stroke-width="3.6"/>
<line x1="68.5" y1="8.2" x2="52.9" y2="16" stroke="#a8a8a8" stroke-width="3.6"/>
<circle cx="32.3" cy="16" r="1.6" fill="#e0e0e0"/>
<rect x="1.5" y="7.6" width="11.7" height="2.9" fill="#b4b4b4"/>
<rect x="1.5" y="13" width="5.0" height="2.9" fill="#a0a0a0"/>
<rect x="9" y="8.8" width="1.8" height="9" fill="#c8c8c8"/>
<rect x="8" y="14.8" width="4.0" height="3.2" fill="#bbb" stroke="#333" stroke-width="0.6"/>
<rect x="13.5" y="15.8" width="5.0" height="3" fill="#aaa" stroke="#333" stroke-width="0.6"/>
<rect x="66.8" y="7.6" width="11.7" height="2.9" fill="#b4b4b4"/>
<rect x="73.5" y="13" width="5.0" height="2.9" fill="#a0a0a0"/>
<rect x="69.2" y="8.8" width="1.8" height="9" fill="#c8c8c8"/>
<rect x="68" y="14.8" width="4.0" height="3.2" fill="#bbb" stroke="#333" stroke-width="0.6"/>
<rect x="61.5" y="15.8" width="5.0" height="3" fill="#aaa" stroke="#333" stroke-width="0.6"/>
<rect x="0" y="24.8" width="80" height="0.7" fill="#000"/>
</g>
<polyline points="100.5,494.5 108.5,503.5 171.5,503.5 179.5,494.5" fill="#fff" stroke="#000" stroke-width="1"/>
<polyline points="220.5,494.5 228.5,503.5 291.5,503.5 299.5,494.5" fill="#fff" stroke="#000" stroke-width="1"/>
<polygon points="180,480.5 188.5,462.5 211.5,462.5 220,480.5" fill="#fff" stroke="#000" stroke-width="1"/>
<rect x="180" y="480.5" width="40" height="14" fill="#767676" stroke="#000" stroke-width="1"/>
<line x1="180.5" y1="480.5" x2="219.5" y2="480.5" stroke="#ff0000" stroke-width="1.2"/>
<text x="200.6" y="475.3" font-size="13.5" text-anchor="middle" fill="#000">Q</text>
<polygon points="300,480.5 308.5,462.5 331.5,462.5 340,480.5" fill="#fff" stroke="#000" stroke-width="1"/>
<rect x="300" y="480.5" width="40" height="14" fill="#767676" stroke="#000" stroke-width="1"/>
<line x1="300.5" y1="480.5" x2="339.5" y2="480.5" stroke="#ff0000" stroke-width="1.2"/>
<text x="320.6" y="475.3" font-size="13.5" text-anchor="middle" fill="#000">Q</text>
<rect x="340.5" y="480.5" width="25" height="14" fill="#fff" stroke="#000" stroke-width="1"/>
<text x="352.7" y="492.5" font-size="14" text-anchor="middle" fill="#000">P</text>
<path d="M0.3,0 L-3.5,-0.7 L-6.5,-2.4 L-9.3,-3.5 L-10.7,-3.2 L-9.8,-1.3 L-9.4,0 L-9.8,1.3 L-10.7,3.2 L-9.3,3.5 L-6.5,2.4 L-3.5,0.7 Z" transform="translate(100.5,494.5) rotate(0)" fill="#000"/>
<path d="M0.3,0 L-3.5,-0.7 L-6.5,-2.4 L-9.3,-3.5 L-10.7,-3.2 L-9.8,-1.3 L-9.4,0 L-9.8,1.3 L-10.7,3.2 L-9.3,3.5 L-6.5,2.4 L-3.5,0.7 Z" transform="translate(180,494.8) rotate(-90)" fill="#000"/>
<path d="M0.3,0 L-3.5,-0.7 L-6.5,-2.4 L-9.3,-3.5 L-10.7,-3.2 L-9.8,-1.3 L-9.4,0 L-9.8,1.3 L-10.7,3.2 L-9.3,3.5 L-6.5,2.4 L-3.5,0.7 Z" transform="translate(220.5,494.8) rotate(-90)" fill="#000"/>
<path d="M0.3,0 L-3.5,-0.7 L-6.5,-2.4 L-9.3,-3.5 L-10.7,-3.2 L-9.8,-1.3 L-9.4,0 L-9.8,1.3 L-10.7,3.2 L-9.3,3.5 L-6.5,2.4 L-3.5,0.7 Z" transform="translate(300,494.8) rotate(-90)" fill="#000"/>
<path d="M0.3,0 L-3.5,-0.7 L-6.5,-2.4 L-9.3,-3.5 L-10.7,-3.2 L-9.8,-1.3 L-9.4,0 L-9.8,1.3 L-10.7,3.2 L-9.3,3.5 L-6.5,2.4 L-3.5,0.7 Z" transform="translate(340.5,494.8) rotate(-90)" fill="#000"/>
<rect x="114" y="562.5" width="50.5" height="65.5" fill="#1e1e1e"/>
<rect x="100.5" y="548.5" width="14" height="79.5" fill="#fff" stroke="#000" stroke-width="1"/>
<rect x="164.5" y="562.5" width="15" height="65.5" fill="#fff" stroke="#000" stroke-width="1"/>
<text x="107" y="558.8" font-size="9.5" text-anchor="middle" fill="#000">h</text>
<text x="172" y="574.5" font-size="9.5" text-anchor="middle" fill="#000">i</text>
<polygon points="121,562.5 134.5,555.2 136.5,554.5 143.5,554.5 145.5,555.2 159,562.5" fill="#777" stroke="#000" stroke-width="1"/>
<path d="M134.5,562.5 L134.5,556 Q135,554.5 137,554.5 L143,554.5 Q145,554.5 145.5,556 L145.5,562.5 Z" fill="#000"/>
<rect x="138.7" y="555.5" width="2.5" height="5" fill="#fff"/>
<rect x="135.3" y="560" width="9.6" height="2.5" fill="#fff"/>
<rect x="134.5" y="562.5" width="10.5" height="45" fill="#777"/>
<rect x="131.5" y="607.5" width="16.5" height="18.5" fill="#bbb" stroke="#000" stroke-width="1"/>
<polygon points="128.5,626 150.5,626 150.5,630 128.5,630" fill="#aaa" stroke="#000" stroke-width="0.7"/>
<line x1="114" y1="562.5" x2="164.5" y2="562.5" stroke="#000" stroke-width="1"/>
<rect x="234" y="562.5" width="50.5" height="65.5" fill="#1e1e1e"/>
<rect x="220.5" y="548.5" width="14" height="79.5" fill="#fff" stroke="#000" stroke-width="1"/>
<rect x="284.5" y="562.5" width="15" height="65.5" fill="#fff" stroke="#000" stroke-width="1"/>
<text x="227" y="558.8" font-size="9.5" text-anchor="middle" fill="#000">j</text>
<text x="292" y="574.5" font-size="9.5" text-anchor="middle" fill="#000">k</text>
<polygon points="241,562.5 254.5,555.2 256.5,554.5 263.5,554.5 265.5,555.2 279,562.5" fill="#777" stroke="#000" stroke-width="1"/>
<path d="M254.5,562.5 L254.5,556 Q255,554.5 257,554.5 L263,554.5 Q265,554.5 265.5,556 L265.5,562.5 Z" fill="#000"/>
<rect x="258.7" y="555.5" width="2.5" height="5" fill="#fff"/>
<rect x="255.3" y="560" width="9.6" height="2.5" fill="#fff"/>
<rect x="254.5" y="562.5" width="10.5" height="45" fill="#777"/>
<rect x="251.5" y="607.5" width="16.5" height="18.5" fill="#bbb" stroke="#000" stroke-width="1"/>
<polygon points="248.5,626 270.5,626 270.5,630 248.5,630" fill="#aaa" stroke="#000" stroke-width="0.7"/>
<line x1="234" y1="562.5" x2="284.5" y2="562.5" stroke="#000" stroke-width="1"/>
<g transform="translate(100,627.5)">
<rect x="0" y="0" width="80" height="25.5" fill="#1a1a1a"/>
<rect x="0" y="0" width="80" height="1" fill="#000"/>
<path d="M-0.1999999999999993,17 A10,10 0 0 0 19.8,17 Z" fill="#747474"/>
<path d="M2.3000000000000007,17 A7.5,7.5 0 0 0 17.3,17" fill="none" stroke="#5a5a5a" stroke-width="1"/>
<path d="M4.800000000000001,17 A5,5 0 0 0 14.8,17" fill="none" stroke="#8a8a8a" stroke-width="0.8"/>
<path d="M-0.1999999999999993,17 A10,10 0 0 0 19.8,17" fill="none" stroke="#9a9a9a" stroke-width="0.9"/>
<path d="M60.2,17 A10,10 0 0 0 80.2,17 Z" fill="#747474"/>
<path d="M62.7,17 A7.5,7.5 0 0 0 77.7,17" fill="none" stroke="#5a5a5a" stroke-width="1"/>
<path d="M65.2,17 A5,5 0 0 0 75.2,17" fill="none" stroke="#8a8a8a" stroke-width="0.8"/>
<path d="M60.2,17 A10,10 0 0 0 80.2,17" fill="none" stroke="#9a9a9a" stroke-width="0.9"/>
<polygon points="28.6,0.9 50.1,0.9 48.5,6.4 30,6.4" fill="#b0b0b0"/>
<polygon points="21,4.8 26,4.8 24.5,9.5" fill="#999"/>
<polygon points="49.7,5 56.5,5 51.5,16.5" fill="#a8a8a8"/>
<rect x="24" y="8.6" width="28" height="1.2" fill="#999"/>
<rect x="26" y="12.6" width="24" height="1.3" fill="#777"/>
<rect x="30" y="15" width="22" height="1.8" fill="#aaa"/>
<line x1="11.5" y1="8.2" x2="31" y2="16.3" stroke="#a8a8a8" stroke-width="3.6"/>
<line x1="68.5" y1="8.2" x2="52.9" y2="16" stroke="#a8a8a8" stroke-width="3.6"/>
<circle cx="32.3" cy="16" r="1.6" fill="#e0e0e0"/>
<rect x="1.5" y="7.6" width="11.7" height="2.9" fill="#b4b4b4"/>
<rect x="1.5" y="13" width="5.0" height="2.9" fill="#a0a0a0"/>
<rect x="9" y="8.8" width="1.8" height="9" fill="#c8c8c8"/>
<rect x="8" y="14.8" width="4.0" height="3.2" fill="#bbb" stroke="#333" stroke-width="0.6"/>
<rect x="13.5" y="15.8" width="5.0" height="3" fill="#aaa" stroke="#333" stroke-width="0.6"/>
<rect x="66.8" y="7.6" width="11.7" height="2.9" fill="#b4b4b4"/>
<rect x="73.5" y="13" width="5.0" height="2.9" fill="#a0a0a0"/>
<rect x="69.2" y="8.8" width="1.8" height="9" fill="#c8c8c8"/>
<rect x="68" y="14.8" width="4.0" height="3.2" fill="#bbb" stroke="#333" stroke-width="0.6"/>
<rect x="61.5" y="15.8" width="5.0" height="3" fill="#aaa" stroke="#333" stroke-width="0.6"/>
<rect x="0" y="24.8" width="80" height="0.7" fill="#000"/>
<rect x="0" y="0" width="80" height="1.6" fill="#555"/>
</g>
<g transform="translate(220,627.5)">
<rect x="0" y="0" width="80" height="25.5" fill="#1a1a1a"/>
<rect x="0" y="0" width="80" height="1" fill="#000"/>
<path d="M-0.1999999999999993,17 A10,10 0 0 0 19.8,17 Z" fill="#747474"/>
<path d="M2.3000000000000007,17 A7.5,7.5 0 0 0 17.3,17" fill="none" stroke="#5a5a5a" stroke-width="1"/>
<path d="M4.800000000000001,17 A5,5 0 0 0 14.8,17" fill="none" stroke="#8a8a8a" stroke-width="0.8"/>
<path d="M-0.1999999999999993,17 A10,10 0 0 0 19.8,17" fill="none" stroke="#9a9a9a" stroke-width="0.9"/>
<path d="M60.2,17 A10,10 0 0 0 80.2,17 Z" fill="#747474"/>
<path d="M62.7,17 A7.5,7.5 0 0 0 77.7,17" fill="none" stroke="#5a5a5a" stroke-width="1"/>
<path d="M65.2,17 A5,5 0 0 0 75.2,17" fill="none" stroke="#8a8a8a" stroke-width="0.8"/>
<path d="M60.2,17 A10,10 0 0 0 80.2,17" fill="none" stroke="#9a9a9a" stroke-width="0.9"/>
<polygon points="28.6,0.9 50.1,0.9 48.5,6.4 30,6.4" fill="#b0b0b0"/>
<polygon points="21,4.8 26,4.8 24.5,9.5" fill="#999"/>
<polygon points="49.7,5 56.5,5 51.5,16.5" fill="#a8a8a8"/>
<rect x="24" y="8.6" width="28" height="1.2" fill="#999"/>
<rect x="26" y="12.6" width="24" height="1.3" fill="#777"/>
<rect x="30" y="15" width="22" height="1.8" fill="#aaa"/>
<line x1="11.5" y1="8.2" x2="31" y2="16.3" stroke="#a8a8a8" stroke-width="3.6"/>
<line x1="68.5" y1="8.2" x2="52.9" y2="16" stroke="#a8a8a8" stroke-width="3.6"/>
<circle cx="32.3" cy="16" r="1.6" fill="#e0e0e0"/>
<rect x="1.5" y="7.6" width="11.7" height="2.9" fill="#b4b4b4"/>
<rect x="1.5" y="13" width="5.0" height="2.9" fill="#a0a0a0"/>
<rect x="9" y="8.8" width="1.8" height="9" fill="#c8c8c8"/>
<rect x="8" y="14.8" width="4.0" height="3.2" fill="#bbb" stroke="#333" stroke-width="0.6"/>
<rect x="13.5" y="15.8" width="5.0" height="3" fill="#aaa" stroke="#333" stroke-width="0.6"/>
<rect x="66.8" y="7.6" width="11.7" height="2.9" fill="#b4b4b4"/>
<rect x="73.5" y="13" width="5.0" height="2.9" fill="#a0a0a0"/>
<rect x="69.2" y="8.8" width="1.8" height="9" fill="#c8c8c8"/>
<rect x="68" y="14.8" width="4.0" height="3.2" fill="#bbb" stroke="#333" stroke-width="0.6"/>
<rect x="61.5" y="15.8" width="5.0" height="3" fill="#aaa" stroke="#333" stroke-width="0.6"/>
<rect x="0" y="24.8" width="80" height="0.7" fill="#000"/>
<rect x="0" y="0" width="80" height="1.6" fill="#555"/>
</g>
<polyline points="100.5,650.5 108.5,659.5 171.5,659.5 179.5,650.5" fill="#fff" stroke="#000" stroke-width="1"/>
<polyline points="220.5,650.5 228.5,659.5 291.5,659.5 299.5,650.5" fill="#fff" stroke="#000" stroke-width="1"/>
<rect x="180" y="582.5" width="40" height="68" fill="#767676" stroke="#000" stroke-width="1"/>
<rect x="300" y="582.5" width="40" height="68" fill="#767676" stroke="#000" stroke-width="1"/>
<polygon points="340.5,582.5 360.5,590.5 360.5,642.5 340.5,650.5" fill="#fff" stroke="#000" stroke-width="1"/>
<text x="350.5" y="619" font-size="17" text-anchor="middle" fill="#000">G</text>
<line x1="100" y1="582.5" x2="340" y2="582.5" stroke="#000" stroke-width="1"/>
<path d="M0.3,0 L-3.5,-0.7 L-6.5,-2.4 L-9.3,-3.5 L-10.7,-3.2 L-9.8,-1.3 L-9.4,0 L-9.8,1.3 L-10.7,3.2 L-9.3,3.5 L-6.5,2.4 L-3.5,0.7 Z" transform="translate(100.5,582.5) rotate(0)" fill="#000"/>
<path d="M0.3,0 L-3.5,-0.7 L-6.5,-2.4 L-9.3,-3.5 L-10.7,-3.2 L-9.8,-1.3 L-9.4,0 L-9.8,1.3 L-10.7,3.2 L-9.3,3.5 L-6.5,2.4 L-3.5,0.7 Z" transform="translate(180,562.5) rotate(180)" fill="#000"/>
<path d="M0.3,0 L-3.5,-0.7 L-6.5,-2.4 L-9.3,-3.5 L-10.7,-3.2 L-9.8,-1.3 L-9.4,0 L-9.8,1.3 L-10.7,3.2 L-9.3,3.5 L-6.5,2.4 L-3.5,0.7 Z" transform="translate(300,562.5) rotate(180)" fill="#000"/>
<path d="M0.3,0 L-3.5,-0.7 L-6.5,-2.4 L-9.3,-3.5 L-10.7,-3.2 L-9.8,-1.3 L-9.4,0 L-9.8,1.3 L-10.7,3.2 L-9.3,3.5 L-6.5,2.4 L-3.5,0.7 Z" transform="translate(100.5,650.5) rotate(0)" fill="#000"/>
<path d="M0.3,0 L-3.5,-0.7 L-6.5,-2.4 L-9.3,-3.5 L-10.7,-3.2 L-9.8,-1.3 L-9.4,0 L-9.8,1.3 L-10.7,3.2 L-9.3,3.5 L-6.5,2.4 L-3.5,0.7 Z" transform="translate(180,650.8) rotate(-90)" fill="#000"/>
<path d="M0.3,0 L-3.5,-0.7 L-6.5,-2.4 L-9.3,-3.5 L-10.7,-3.2 L-9.8,-1.3 L-9.4,0 L-9.8,1.3 L-10.7,3.2 L-9.3,3.5 L-6.5,2.4 L-3.5,0.7 Z" transform="translate(220.5,650.8) rotate(-90)" fill="#000"/>
<path d="M0.3,0 L-3.5,-0.7 L-6.5,-2.4 L-9.3,-3.5 L-10.7,-3.2 L-9.8,-1.3 L-9.4,0 L-9.8,1.3 L-10.7,3.2 L-9.3,3.5 L-6.5,2.4 L-3.5,0.7 Z" transform="translate(300,650.8) rotate(-90)" fill="#000"/>
<path d="M0.3,0 L-3.5,-0.7 L-6.5,-2.4 L-9.3,-3.5 L-10.7,-3.2 L-9.8,-1.3 L-9.4,0 L-9.8,1.3 L-10.7,3.2 L-9.3,3.5 L-6.5,2.4 L-3.5,0.7 Z" transform="translate(340.5,650.8) rotate(-90)" fill="#000"/>
<polyline points="414.5,684.5 414.5,407.5 451.5,389.5 459.5,397.5 498.5,397.5 506.5,389.5 543.5,407.5 543.5,684.5 506.5,702 501.5,697.5 456.5,697.5 451.5,702 414.5,684.5" fill="#fff" stroke="#000" stroke-width="1"/>
<line x1="431.5" y1="399" x2="431.5" y2="693" stroke="#000" stroke-width="1"/>
<line x1="526.5" y1="399" x2="526.5" y2="693" stroke="#000" stroke-width="1"/>
<polygon points="440.5,394.5 451.5,389.5 451.5,702 440.5,697" fill="#6a6a6a" stroke="#000" stroke-width="1"/>
<rect x="443.5" y="398.3" width="5.2" height="23.1" fill="#6a6a6a" stroke="#111" stroke-width="0.8"/>
<line x1="446.0" y1="400.5" x2="446.0" y2="403" stroke="#222" stroke-width="0.7"/>
<line x1="446.0" y1="417" x2="446.0" y2="419.5" stroke="#222" stroke-width="0.7"/>
<line x1="440.5" y1="425.5" x2="451.5" y2="425.5" stroke="#111" stroke-width="0.9"/>
<line x1="440.5" y1="469.5" x2="451.5" y2="469.5" stroke="#111" stroke-width="0.9"/>
<line x1="440.5" y1="513.5" x2="451.5" y2="513.5" stroke="#111" stroke-width="0.9"/>
<line x1="440.5" y1="557.5" x2="451.5" y2="557.5" stroke="#111" stroke-width="0.9"/>
<line x1="440.5" y1="601.5" x2="451.5" y2="601.5" stroke="#111" stroke-width="0.9"/>
<line x1="440.5" y1="645.5" x2="451.5" y2="645.5" stroke="#111" stroke-width="0.9"/>
<line x1="440.5" y1="689.5" x2="451.5" y2="689.5" stroke="#111" stroke-width="0.9"/>
<line x1="443.3" y1="426.8" x2="443.3" y2="436.4" stroke="#1c1c1c" stroke-width="0.8"/>
<line x1="445.4" y1="426.8" x2="445.4" y2="436.4" stroke="#1c1c1c" stroke-width="0.8"/>
<line x1="447.5" y1="426.8" x2="447.5" y2="436.4" stroke="#1c1c1c" stroke-width="0.8"/>
<line x1="449.6" y1="426.8" x2="449.6" y2="436.4" stroke="#1c1c1c" stroke-width="0.8"/>
<line x1="443.3" y1="437.8" x2="443.3" y2="447.4" stroke="#1c1c1c" stroke-width="0.8"/>
<line x1="445.4" y1="437.8" x2="445.4" y2="447.4" stroke="#1c1c1c" stroke-width="0.8"/>
<line x1="447.5" y1="437.8" x2="447.5" y2="447.4" stroke="#1c1c1c" stroke-width="0.8"/>
<line x1="449.6" y1="437.8" x2="449.6" y2="447.4" stroke="#1c1c1c" stroke-width="0.8"/>
<line x1="443.3" y1="448.8" x2="443.3" y2="458.4" stroke="#1c1c1c" stroke-width="0.8"/>
<line x1="445.4" y1="448.8" x2="445.4" y2="458.4" stroke="#1c1c1c" stroke-width="0.8"/>
<line x1="447.5" y1="448.8" x2="447.5" y2="458.4" stroke="#1c1c1c" stroke-width="0.8"/>
<line x1="449.6" y1="448.8" x2="449.6" y2="458.4" stroke="#1c1c1c" stroke-width="0.8"/>
<line x1="443.3" y1="459.8" x2="443.3" y2="469.4" stroke="#1c1c1c" stroke-width="0.8"/>
<line x1="445.4" y1="459.8" x2="445.4" y2="469.4" stroke="#1c1c1c" stroke-width="0.8"/>
<line x1="447.5" y1="459.8" x2="447.5" y2="469.4" stroke="#1c1c1c" stroke-width="0.8"/>
<line x1="449.6" y1="459.8" x2="449.6" y2="469.4" stroke="#1c1c1c" stroke-width="0.8"/>
<line x1="443.3" y1="470.8" x2="443.3" y2="480.4" stroke="#1c1c1c" stroke-width="0.8"/>
<line x1="445.4" y1="470.8" x2="445.4" y2="480.4" stroke="#1c1c1c" stroke-width="0.8"/>
<line x1="447.5" y1="470.8" x2="447.5" y2="480.4" stroke="#1c1c1c" stroke-width="0.8"/>
<line x1="449.6" y1="470.8" x2="449.6" y2="480.4" stroke="#1c1c1c" stroke-width="0.8"/>
<line x1="443.3" y1="481.8" x2="443.3" y2="491.4" stroke="#1c1c1c" stroke-width="0.8"/>
<line x1="445.4" y1="481.8" x2="445.4" y2="491.4" stroke="#1c1c1c" stroke-width="0.8"/>
<line x1="447.5" y1="481.8" x2="447.5" y2="491.4" stroke="#1c1c1c" stroke-width="0.8"/>
<line x1="449.6" y1="481.8" x2="449.6" y2="491.4" stroke="#1c1c1c" stroke-width="0.8"/>
<line x1="443.3" y1="492.8" x2="443.3" y2="502.4" stroke="#1c1c1c" stroke-width="0.8"/>
<line x1="445.4" y1="492.8" x2="445.4" y2="502.4" stroke="#1c1c1c" stroke-width="0.8"/>
<line x1="447.5" y1="492.8" x2="447.5" y2="502.4" stroke="#1c1c1c" stroke-width="0.8"/>
<line x1="449.6" y1="492.8" x2="449.6" y2="502.4" stroke="#1c1c1c" stroke-width="0.8"/>
<line x1="443.3" y1="503.8" x2="443.3" y2="513.4" stroke="#1c1c1c" stroke-width="0.8"/>
<line x1="445.4" y1="503.8" x2="445.4" y2="513.4" stroke="#1c1c1c" stroke-width="0.8"/>
<line x1="447.5" y1="503.8" x2="447.5" y2="513.4" stroke="#1c1c1c" stroke-width="0.8"/>
<line x1="449.6" y1="503.8" x2="449.6" y2="513.4" stroke="#1c1c1c" stroke-width="0.8"/>
<line x1="444.4" y1="523.5" x2="447.6" y2="523.5" stroke="#222" stroke-width="0.8"/>
<line x1="444.4" y1="547" x2="447.6" y2="547" stroke="#222" stroke-width="0.8"/>
<line x1="444.4" y1="567.5" x2="447.6" y2="567.5" stroke="#222" stroke-width="0.8"/>
<line x1="444.4" y1="591" x2="447.6" y2="591" stroke="#222" stroke-width="0.8"/>
<line x1="444.4" y1="611" x2="447.6" y2="611" stroke="#222" stroke-width="0.8"/>
<line x1="444.4" y1="635" x2="447.6" y2="635" stroke="#222" stroke-width="0.8"/>
<line x1="444.4" y1="655" x2="447.6" y2="655" stroke="#222" stroke-width="0.8"/>
<line x1="444.4" y1="679" x2="447.6" y2="679" stroke="#222" stroke-width="0.8"/>
<polygon points="506.5,389.5 517.5,394.5 517.5,697 506.5,702" fill="#6a6a6a" stroke="#000" stroke-width="1"/>
<rect x="509.5" y="398.3" width="5.2" height="23.1" fill="#6a6a6a" stroke="#111" stroke-width="0.8"/>
<line x1="512.0" y1="400.5" x2="512.0" y2="403" stroke="#222" stroke-width="0.7"/>
<line x1="512.0" y1="417" x2="512.0" y2="419.5" stroke="#222" stroke-width="0.7"/>
<line x1="506.5" y1="425.5" x2="517.5" y2="425.5" stroke="#111" stroke-width="0.9"/>
<line x1="506.5" y1="469.5" x2="517.5" y2="469.5" stroke="#111" stroke-width="0.9"/>
<line x1="506.5" y1="513.5" x2="517.5" y2="513.5" stroke="#111" stroke-width="0.9"/>
<line x1="506.5" y1="557.5" x2="517.5" y2="557.5" stroke="#111" stroke-width="0.9"/>
<line x1="506.5" y1="601.5" x2="517.5" y2="601.5" stroke="#111" stroke-width="0.9"/>
<line x1="506.5" y1="645.5" x2="517.5" y2="645.5" stroke="#111" stroke-width="0.9"/>
<line x1="506.5" y1="689.5" x2="517.5" y2="689.5" stroke="#111" stroke-width="0.9"/>
<line x1="509.3" y1="426.8" x2="509.3" y2="436.4" stroke="#1c1c1c" stroke-width="0.8"/>
<line x1="511.4" y1="426.8" x2="511.4" y2="436.4" stroke="#1c1c1c" stroke-width="0.8"/>
<line x1="513.5" y1="426.8" x2="513.5" y2="436.4" stroke="#1c1c1c" stroke-width="0.8"/>
<line x1="515.6" y1="426.8" x2="515.6" y2="436.4" stroke="#1c1c1c" stroke-width="0.8"/>
<line x1="509.3" y1="437.8" x2="509.3" y2="447.4" stroke="#1c1c1c" stroke-width="0.8"/>
<line x1="511.4" y1="437.8" x2="511.4" y2="447.4" stroke="#1c1c1c" stroke-width="0.8"/>
<line x1="513.5" y1="437.8" x2="513.5" y2="447.4" stroke="#1c1c1c" stroke-width="0.8"/>
<line x1="515.6" y1="437.8" x2="515.6" y2="447.4" stroke="#1c1c1c" stroke-width="0.8"/>
<line x1="509.3" y1="448.8" x2="509.3" y2="458.4" stroke="#1c1c1c" stroke-width="0.8"/>
<line x1="511.4" y1="448.8" x2="511.4" y2="458.4" stroke="#1c1c1c" stroke-width="0.8"/>
<line x1="513.5" y1="448.8" x2="513.5" y2="458.4" stroke="#1c1c1c" stroke-width="0.8"/>
<line x1="515.6" y1="448.8" x2="515.6" y2="458.4" stroke="#1c1c1c" stroke-width="0.8"/>
<line x1="509.3" y1="459.8" x2="509.3" y2="469.4" stroke="#1c1c1c" stroke-width="0.8"/>
<line x1="511.4" y1="459.8" x2="511.4" y2="469.4" stroke="#1c1c1c" stroke-width="0.8"/>
<line x1="513.5" y1="459.8" x2="513.5" y2="469.4" stroke="#1c1c1c" stroke-width="0.8"/>
<line x1="515.6" y1="459.8" x2="515.6" y2="469.4" stroke="#1c1c1c" stroke-width="0.8"/>
<line x1="509.3" y1="470.8" x2="509.3" y2="480.4" stroke="#1c1c1c" stroke-width="0.8"/>
<line x1="511.4" y1="470.8" x2="511.4" y2="480.4" stroke="#1c1c1c" stroke-width="0.8"/>
<line x1="513.5" y1="470.8" x2="513.5" y2="480.4" stroke="#1c1c1c" stroke-width="0.8"/>
<line x1="515.6" y1="470.8" x2="515.6" y2="480.4" stroke="#1c1c1c" stroke-width="0.8"/>
<line x1="509.3" y1="481.8" x2="509.3" y2="491.4" stroke="#1c1c1c" stroke-width="0.8"/>
<line x1="511.4" y1="481.8" x2="511.4" y2="491.4" stroke="#1c1c1c" stroke-width="0.8"/>
<line x1="513.5" y1="481.8" x2="513.5" y2="491.4" stroke="#1c1c1c" stroke-width="0.8"/>
<line x1="515.6" y1="481.8" x2="515.6" y2="491.4" stroke="#1c1c1c" stroke-width="0.8"/>
<line x1="509.3" y1="492.8" x2="509.3" y2="502.4" stroke="#1c1c1c" stroke-width="0.8"/>
<line x1="511.4" y1="492.8" x2="511.4" y2="502.4" stroke="#1c1c1c" stroke-width="0.8"/>
<line x1="513.5" y1="492.8" x2="513.5" y2="502.4" stroke="#1c1c1c" stroke-width="0.8"/>
<line x1="515.6" y1="492.8" x2="515.6" y2="502.4" stroke="#1c1c1c" stroke-width="0.8"/>
<line x1="509.3" y1="503.8" x2="509.3" y2="513.4" stroke="#1c1c1c" stroke-width="0.8"/>
<line x1="511.4" y1="503.8" x2="511.4" y2="513.4" stroke="#1c1c1c" stroke-width="0.8"/>
<line x1="513.5" y1="503.8" x2="513.5" y2="513.4" stroke="#1c1c1c" stroke-width="0.8"/>
<line x1="515.6" y1="503.8" x2="515.6" y2="513.4" stroke="#1c1c1c" stroke-width="0.8"/>
<line x1="510.4" y1="523.5" x2="513.6" y2="523.5" stroke="#222" stroke-width="0.8"/>
<line x1="510.4" y1="547" x2="513.6" y2="547" stroke="#222" stroke-width="0.8"/>
<line x1="510.4" y1="567.5" x2="513.6" y2="567.5" stroke="#222" stroke-width="0.8"/>
<line x1="510.4" y1="591" x2="513.6" y2="591" stroke="#222" stroke-width="0.8"/>
<line x1="510.4" y1="611" x2="513.6" y2="611" stroke="#222" stroke-width="0.8"/>
<line x1="510.4" y1="635" x2="513.6" y2="635" stroke="#222" stroke-width="0.8"/>
<line x1="510.4" y1="655" x2="513.6" y2="655" stroke="#222" stroke-width="0.8"/>
<line x1="510.4" y1="679" x2="513.6" y2="679" stroke="#222" stroke-width="0.8"/>
<line x1="457" y1="697.5" x2="501" y2="697.5" stroke="#ff0000" stroke-width="1"/>
<polyline points="451.5,702 451.5,738.5 506.5,738.5 506.5,702" fill="none" stroke="#000" stroke-width="1"/>
<polygon points="451.5,711.5 431.5,711.5 431.5,731.5 451.5,738.5" fill="#fff" stroke="#000" stroke-width="1"/>
<polygon points="506.5,711.5 526.5,711.5 526.5,731.5 506.5,738.5" fill="#fff" stroke="#000" stroke-width="1"/>
<text x="0" y="0" font-size="14" text-anchor="middle" fill="#000" transform="translate(446.5,722) rotate(-90)">E</text>
<text x="0" y="0" font-size="14" text-anchor="middle" fill="#000" transform="translate(521.5,722) rotate(-90)">E</text>
<text x="0" y="0" font-size="14.4" text-anchor="middle" fill="#000" transform="translate(417.9,542.3) rotate(90)">D</text>
<text x="0" y="0" font-size="14.6" text-anchor="middle" fill="#000" transform="translate(529.6,544.5) rotate(90)">C</text>
<text x="0" y="0" font-size="14.1" fill="#000" transform="translate(482.9,411.3) rotate(90)">door at</text>
<text x="0" y="0" font-size="13.9" fill="#000" transform="translate(466.4,408.8) rotate(90)">this end</text>
<path d="M0.3,0 L-3.5,-0.7 L-6.5,-2.4 L-9.3,-3.5 L-10.7,-3.2 L-9.8,-1.3 L-9.4,0 L-9.8,1.3 L-10.7,3.2 L-9.3,3.5 L-6.5,2.4 L-3.5,0.7 Z" transform="translate(431.5,399) rotate(90)" fill="#000"/>
<path d="M0.3,0 L-3.5,-0.7 L-6.5,-2.4 L-9.3,-3.5 L-10.7,-3.2 L-9.8,-1.3 L-9.4,0 L-9.8,1.3 L-10.7,3.2 L-9.3,3.5 L-6.5,2.4 L-3.5,0.7 Z" transform="translate(440.5,394.5) rotate(90)" fill="#000"/>
<path d="M0.3,0 L-3.5,-0.7 L-6.5,-2.4 L-9.3,-3.5 L-10.7,-3.2 L-9.8,-1.3 L-9.4,0 L-9.8,1.3 L-10.7,3.2 L-9.3,3.5 L-6.5,2.4 L-3.5,0.7 Z" transform="translate(517.5,394.5) rotate(90)" fill="#000"/>
<path d="M0.3,0 L-3.5,-0.7 L-6.5,-2.4 L-9.3,-3.5 L-10.7,-3.2 L-9.8,-1.3 L-9.4,0 L-9.8,1.3 L-10.7,3.2 L-9.3,3.5 L-6.5,2.4 L-3.5,0.7 Z" transform="translate(526.5,399) rotate(90)" fill="#000"/>
<path d="M0.3,0 L-3.5,-0.7 L-6.5,-2.4 L-9.3,-3.5 L-10.7,-3.2 L-9.8,-1.3 L-9.4,0 L-9.8,1.3 L-10.7,3.2 L-9.3,3.5 L-6.5,2.4 L-3.5,0.7 Z" transform="translate(451.5,738.5) rotate(-90)" fill="#000"/>
<path d="M0.3,0 L-3.5,-0.7 L-6.5,-2.4 L-9.3,-3.5 L-10.7,-3.2 L-9.8,-1.3 L-9.4,0 L-9.8,1.3 L-10.7,3.2 L-9.3,3.5 L-6.5,2.4 L-3.5,0.7 Z" transform="translate(506.5,738.5) rotate(-90)" fill="#000"/>
<text x="47.6" y="717.6" font-size="16.2" fill="#000" textLength="363.6" lengthAdjust="spacingAndGlyphs">From the TGV Pages: http://mercurio.iet.unipi.it/tgv/</text>
<text x="46.8" y="736.8" font-size="16.2" fill="#000" textLength="365" lengthAdjust="spacingAndGlyphs">© Copyright 2000 by Clem Tillier, all rights reserved</text>
</svg></body></html>
